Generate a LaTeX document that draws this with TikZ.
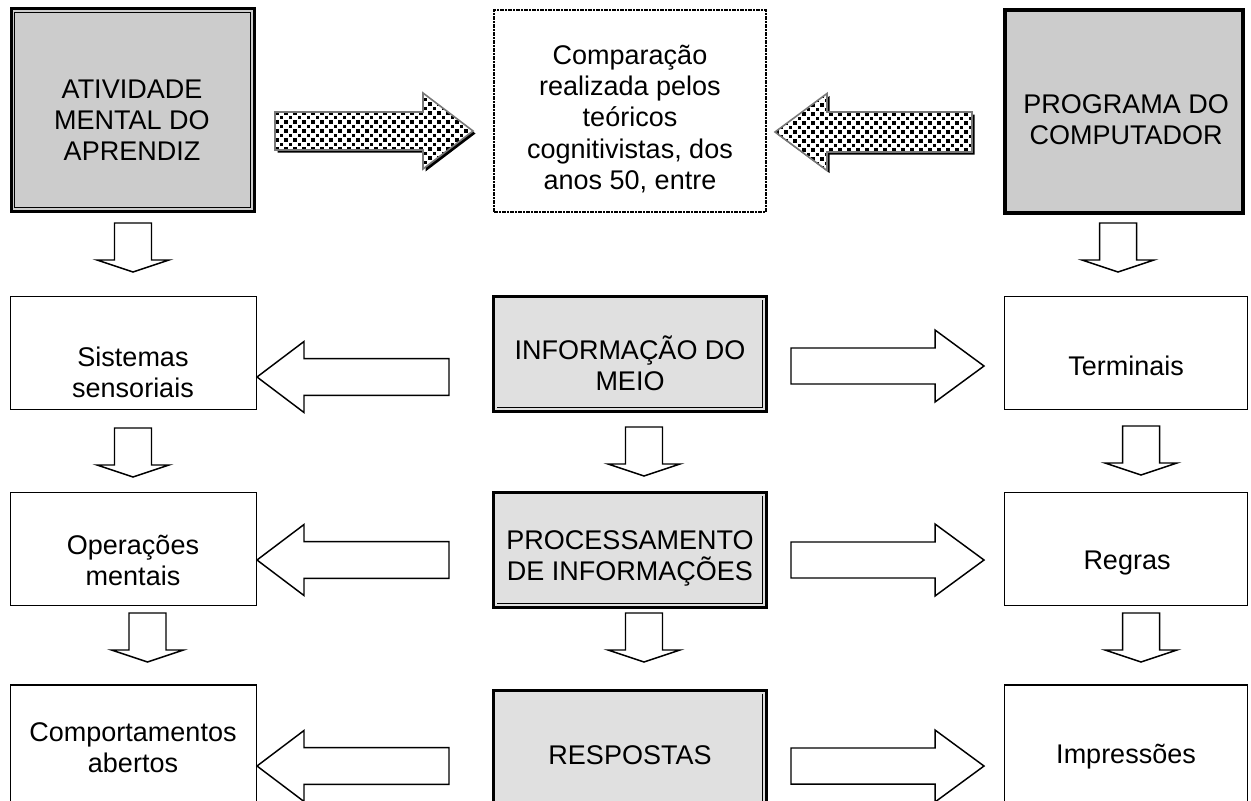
\documentclass[tikz,border=0pt]{standalone}
\usepackage{fontspec}
\setmainfont{Liberation Sans}
\definecolor{topgray}{RGB}{204,204,204}
\definecolor{midgray}{RGB}{224,224,224}
\definecolor{edgegray}{RGB}{120,120,120}
\newcommand\mkbx[6]{\node[#2, minimum width={(#5-#3)*0.75pt}, minimum height={(#6-#4)*0.75pt}] (#1) at ({(#3+#5)/2},{(#4+#6)/2}) {};}
\newcommand\dotRpath{(0,-19) -- (148,-19) -- (148,-38) -- (198,0) -- (148,38) -- (148,19) -- (0,19) -- cycle}
\newcommand\dotLpath{(0,0) -- (52,-38.5) -- (52,-20) -- (197,-20) -- (197,20) -- (52,20) -- (52,38.5) -- cycle}
\newcommand\dotgrid{\foreach \j in {-10,...,10} {\foreach \i in {-1,...,23} {\fill ({\i*9+mod(abs(\j),2)*4.5},{\j*4.5-1.9}) rectangle ++(3.8,3.8);}}}
\tikzset{
  bx/.style={shape=rectangle, inner sep=0pt, outer sep=0pt},
  plainbox/.style={bx, draw, line width=1.1pt, fill=white},
  dblbox/.style={bx, draw, line width=2.25pt, fill=topgray},
  thickbox/.style={bx, draw, line width=3pt, fill=topgray},
  midbox/.style={bx, draw, line width=2.25pt, fill=midgray},
  dashbox/.style={bx, draw, line width=1.2pt, fill=white, dash pattern=on 3pt off 1pt on 1pt off 1pt},
  innerline/.style={line width=0.75pt},
  txt/.style={font=\fontsize{20.25}{23.3}\selectfont, align=center, inner sep=0pt},
  hollow/.style={draw, fill=white, line width=1.1pt, line join=miter},
  downarr/.pic={\path[hollow] (-18.5,0) -- (18.5,0) -- (18.5,37) -- (36,37) -- (0,49) -- (-36,37) -- (-18.5,37) -- cycle;},
  rightarr/.pic={\path[hollow] (0,-18) -- (144,-18) -- (144,-36) -- (193,0) -- (144,36) -- (144,18) -- (0,18) -- cycle;},
  leftarr/.pic={\path[hollow] (0,0) -- (47,-35.5) -- (47,-18.3) -- (192,-18.3) -- (192,18.3) -- (47,18.3) -- (47,35.5) -- cycle;},
  dotright/.pic={
    \fill[black, shift={(2.5,2.5)}] \dotRpath;
    \fill[white] \dotRpath;
    \begin{scope}\clip \dotRpath; \dotgrid \end{scope}
    \draw[edgegray, line width=1.2pt, line join=miter] \dotRpath;
  },
  dotleft/.pic={
    \fill[black, shift={(2.5,2.5)}] \dotLpath;
    \fill[white] \dotLpath;
    \begin{scope}\clip \dotLpath; \dotgrid \end{scope}
    \draw[edgegray, line width=1.2pt, line join=miter] \dotLpath;
  }
}
\begin{document}
\begin{tikzpicture}[x=0.75pt,y=-0.75pt]
\useasboundingbox (0,0) rectangle (1251,800);
\clip (0,0) rectangle (1251,800);
\fill[white] (0,0) rectangle (1251,800);
% row 1
\mkbx{atv}{dblbox}{11.5}{8.5}{254}{211.5}
\draw[innerline] ([shift={(3,3.5)}]atv.north west) rectangle ([shift={(-4,-4)}]atv.south east);
\mkbx{comp}{dashbox}{494}{10}{766}{212}
\mkbx{prog}{thickbox}{1005}{10}{1243}{213}
% row 2
\mkbx{sist}{plainbox}{10.5}{296.5}{256.5}{409.5}
\mkbx{info}{midbox}{493.5}{296.5}{766}{411.3}
\draw[innerline] ([shift={(-3.5,3.5)}]info.north east) -- ([shift={(-3.5,-3.8)}]info.south east) -- ([shift={(3.5,-3.8)}]info.south west);
\mkbx{term}{plainbox}{1004.5}{296.5}{1247.5}{409.5}
% row 3
\mkbx{oper}{plainbox}{10.5}{492.5}{256.5}{605.5}
\mkbx{proc}{midbox}{493.5}{492.5}{766}{607.5}
\draw[innerline] ([shift={(-3.5,3.5)}]proc.north east) -- ([shift={(-3.5,-3.8)}]proc.south east) -- ([shift={(3.5,-3.8)}]proc.south west);
\mkbx{regr}{plainbox}{1004.5}{492.5}{1247.5}{605.5}
% row 4
\mkbx{cmpt}{plainbox}{10.5}{685}{256.5}{830}
\mkbx{resp}{midbox}{493.5}{690}{766}{830}
\draw[innerline] ([shift={(-3.5,3.5)}]resp.north east) -- ([shift={(-3.5,0)}]resp.south east);
\mkbx{impr}{plainbox}{1004.5}{685}{1247.5}{830}
% texts
\node[txt] (t-atv) at (132,120) {ATIVIDADE\\MENTAL DO\\APRENDIZ};
\node[txt] (t-comp) at (630,119) {Comparação\\realizada pelos\\teóricos\\cognitivistas, dos\\anos 50, entre};
\node[txt] (t-prog) at (1126,120) {PROGRAMA DO\\COMPUTADOR};
\node[txt] (t-sist) at (133,372) {Sistemas\\sensoriais};
\node[txt] (t-info) at (630,363) {INFORMAÇÃO DO\\MEIO};
\node[txt] (t-term) at (1126,366) {Terminais};
\node[txt] (t-oper) at (133,560) {Operações\\mentais};
\node[txt] (t-proc) at (630,558) {PROCESSAMENTO\\DE INFORMAÇÕES};
\node[txt] (t-regr) at (1127,563) {Regras};
\node[txt] (t-cmpt) at (133,748) {Comportamentos\\abertos};
\node[txt] (t-resp) at (630,755) {RESPOSTAS};
\node[txt] (t-impr) at (1126,757) {Impressões};
% dotted arrows
\pic at (275,131) {dotright};
\pic at (775,132) {dotleft};
% down arrows
\pic at (133,223) {downarr};
\pic at (133,428) {downarr};
\pic at (147.5,613) {downarr};
\pic at (644,427) {downarr};
\pic at (644,613) {downarr};
\pic at (1118,223) {downarr};
\pic at (1141,426) {downarr};
\pic at (1141,613) {downarr};
% horizontal hollow arrows
\pic at (257,377) {leftarr};
\pic at (257,560) {leftarr};
\pic at (257,766) {leftarr};
\pic at (791,366) {rightarr};
\pic at (791,560) {rightarr};
\pic at (791,766) {rightarr};
\end{tikzpicture}
\end{document}
